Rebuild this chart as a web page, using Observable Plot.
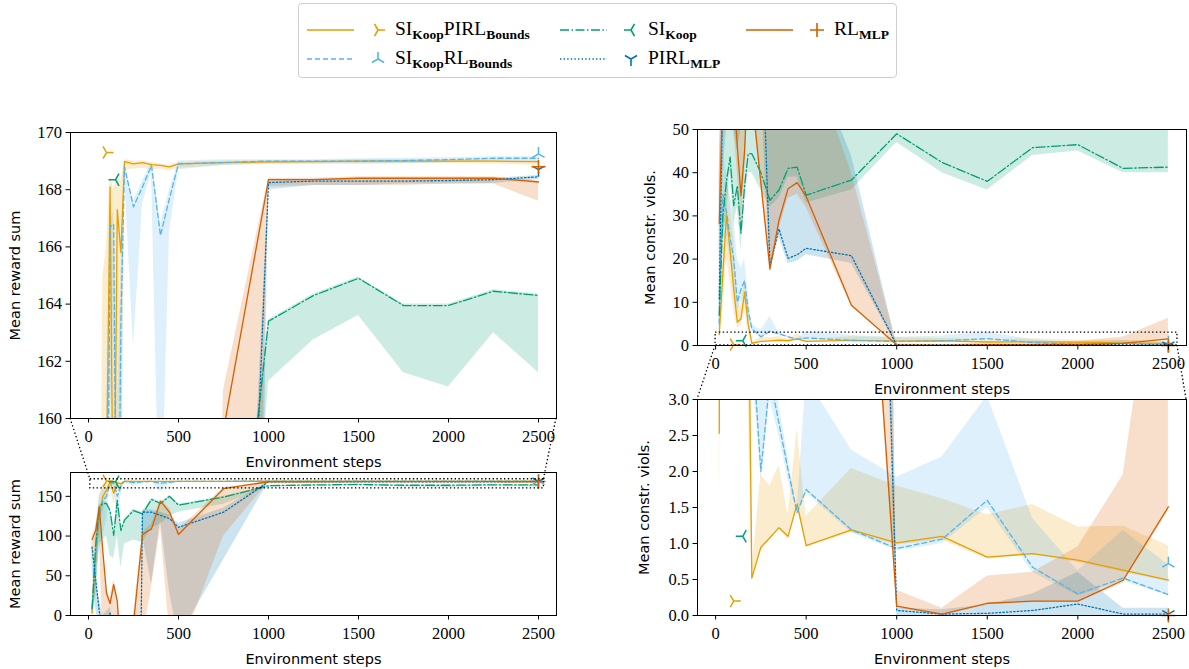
<!DOCTYPE html>
<html><head><meta charset="utf-8">
<script src="https://cdn.jsdelivr.net/npm/d3@7"></script>
<script src="https://cdn.jsdelivr.net/npm/@observablehq/plot@0.6"></script>
<style>
body{margin:0;background:#fff;}
#root{position:relative;width:1189px;height:669px;overflow:hidden;font-family:"Liberation Serif",serif;}
.panel{position:absolute;}
.panel g[aria-label="x-axis label"] text,.panel g[aria-label="y-axis label"] text{font-family:"DejaVu Sans",sans-serif;font-size:14.5px;}
#legend{position:absolute;left:298px;top:3px;width:597px;height:73px;border:1px solid #cfcfcf;border-radius:4px;background:#fff;}
#legend .t{position:absolute;font-family:"Liberation Serif",serif;font-size:19.5px;white-space:nowrap;line-height:20px;}
#legend sub{font-size:13.5px;font-weight:bold;vertical-align:-4px;line-height:0;}
#overlay{position:absolute;left:0;top:0;pointer-events:none;}
</style></head><body><div id="root"></div>
<script>
// ---------------- data ----------------
const STEPS = [20,40,60,80,100,120,140,160,180,200,250,300,350,400,450,500,750,1000,1250,1500,1750,2000,2250,2500];
const SERIES_KEYS = ["SKP","SKR","SK","PIRL","RL"];
const SERIES_LABELS = ["SI<sub>Koop</sub>PIRL<sub>Bounds</sub>","SI<sub>Koop</sub>RL<sub>Bounds</sub>","SI<sub>Koop</sub>","PIRL<sub>MLP</sub>","RL<sub>MLP</sub>"];
const SERIES_COLORS = ["#E69F00","#56B4E9","#009E73","#0072B2","#D55E00"];
const SERIES_DASH = [null,"5,3","9,2.5,1.5,2.5","1.4,2.2",null];
const SERIES_SYMBOL = ["triRight","triUp","triLeft","triDown","plus"];

// reward (mean, lower, upper)
const REW_SKP    = [3,70,128,150,158,168.1,154,167.3,165.8,168.98,168.9,168.95,168.88,168.85,168.8,168.9,168.95,168.97,168.98,169.0,169.0,169.0,169.0,168.98];
const REW_SKP_LO = [0,30,100,130,145,163,140,160,155,168.7,168.72,168.75,168.7,168.72,168.65,168.75,168.85,168.88,168.9,168.9,168.92,168.92,168.9,168.85];
const REW_SKP_HI = [8,110,150,165,166,168.5,168,168.5,168.3,169.05,169.0,169.0,168.95,168.9,168.85,168.95,169.0,169.02,169.02,169.05,169.05,169.05,169.05,169.02];
const REW_SKR    = [8,70,125,145,150,166.7,166.8,150,163.4,168.8,167.4,168.1,168.85,166.4,167.7,168.9,168.95,169.0,169.0,169.0,169.02,169.05,169.1,169.1];
const REW_SKR_LO = [0,30,80,100,120,160,163,120,150,168.5,162.5,167.5,168.6,155,166.5,168.7,168.85,168.9,168.9,168.9,168.9,168.95,169.0,169.0];
const REW_SKR_HI = [15,100,150,160,160,167,167.2,160,165,168.9,167.6,168.3,168.95,166.8,168,169.0,169.05,169.05,169.05,169.08,169.1,169.12,169.15,169.15];
const REW_SK     = [9,88,137,141,141,132,101,145,107,120,132,128,146,141,150,139,149,163.4,164.3,164.9,163.95,163.95,164.45,164.3];
const REW_SK_LO  = [0,20,90,95,100,75,72,100,60,90,95,92,110,115,125,130,140,161.3,162.75,163.6,161.6,161.1,163.0,161.6];
const REW_SK_HI  = [10,90,139,143,143,134,103,147,109,122,134,130,148,143,151,140,150,163.45,164.35,164.95,164.0,164.0,164.5,164.35];
const REW_PIRL    = [86,45,5,-20,-5,3,-40,-60,-100,-200,-800,130,130,126,122,111,130,168.25,168.3,168.3,168.3,168.32,168.35,168.45];
const REW_PIRL_LO = [60,10,-20,-50,-40,-20,-60,-100,-150,-300,-900,100,40,120,30,-28,70,168.0,168.15,168.15,168.2,168.2,168.22,168.35];
const REW_PIRL_HI = [90,50,20,0,5,10,-10,-40,-80,-150,-700,133,133,130,126,116,135,168.3,168.35,168.35,168.35,168.37,168.4,168.5];
const REW_RL    = [95.5,107,136,80,28,15,39,18,-50,-80,-10,102,109,144,130,102,159.6,168.35,168.35,168.4,168.4,168.4,168.4,168.27];
const REW_RL_LO = [70,80,100,-30,-50,-30,-40,-100,-150,-150,-100,-30,35,110,-20,-50,100,168.1,168.15,168.15,168.15,168.2,168.2,167.6];
const REW_RL_HI = [100,112,140,85,35,20,45,25,-40,-60,0,105,115,146,135,108,161,168.4,168.4,168.45,168.45,168.45,168.45,168.3];

// constraint violations (mean, lower, upper)
const VIO_SKP    = [2.53,16.7,30.3,22,13,5.4,6.2,12.3,5,0.52,0.95,1.08,1.22,1.1,1.55,0.97,1.19,1.01,1.1,0.81,0.86,0.77,0.63,0.49];
const VIO_SKP_LO = [1.5,8,20,15,8,4,4.5,8,3,0.5,0.9,1.05,1.2,1.05,1.5,0.95,1.15,0.98,1.05,0.78,0.84,0.74,0.6,0.47];
const VIO_SKP_HI = [5,30,40,33,25,10,9,15,8,0.6,1.95,1.8,2.08,1.4,2.58,1.38,2.04,1.8,1.62,1.4,1.54,1.23,1.24,0.97];
const VIO_SKR    = [5,35,31,25,20,10,13,15,8,3.9,2.0,3.3,2.67,2.02,1.43,1.75,1.19,0.93,1.06,1.6,0.67,0.3,0.52,0.29];
const VIO_SKR_LO = [3,25,25,20,15,8,10,12,6,3.5,1.9,3.0,2.5,1.9,1.4,1.7,1.15,0.9,1.0,1.5,0.6,0.27,0.48,0.27];
const VIO_SKR_HI = [8,45,40,35,30,20,18,20,12,5,3.5,6.7,2.9,2.2,1.45,3.3,2.3,1.92,2.2,3.05,1.35,0.62,1.18,0.7];
const VIO_SK     = [7,30,38,43.6,32.4,37,26,37,44.4,44.4,40,33.6,36,41,41.3,34.8,38.3,49,42.4,38,45.8,46.5,41,41.3];
const VIO_SK_LO  = [4,25,30,40,28,32,22,33,40,40,36,32,34,39,39,33,36,47,40,36,44,45,40,40];
const VIO_SK_HI  = [15,60,65,70,60,65,60,65,70,70,70,65,68,70,72,65,70,75,70,68,72,74,70,72];
const VIO_PIRL    = [10.8,60,70,75,70,65,70,75,80,85,80,18.5,27,20.2,21,22.5,20.8,0.07,0.02,0.03,0.07,0.16,0.02,0.02];
const VIO_PIRL_LO = [5,40,50,55,50,45,50,55,60,65,60,17,25,19,19.5,21,19,0,0,0,0,0,0,0];
const VIO_PIRL_HI = [40,80,90,95,90,85,90,95,100,105,100,60,65,65,68,70,44,0.1,0.08,0.15,0.3,0.6,0.1,0.1];
const VIO_RL    = [28.2,60,65,70,60,46,34.7,45,65,58,37.6,17.7,29,36.3,37.7,34.5,9.3,0.13,0.02,0.17,0.2,0.2,0.49,1.51];
const VIO_RL_LO = [20,50,55,60,50,40,28,40,55,57,37,17,27,34,35,32,9,0.1,0,0.15,0.18,0.18,0.45,1.45];
const VIO_RL_HI = [40,80,85,90,80,70,55,70,90,90,70,60,65,70,72,70,40,0.35,0.1,0.55,0.6,0.95,1.95,6.3];

// single highlighted points (one per series)
const MARK_STEP = [100,2500,150,2500,2500];
const MARK_REW  = [169.3,169.25,168.35,168.7,168.8];
const MARK_VIO  = [0.2,0.72,1.1,0.02,0.0];

const X_DOMAIN = [-100,2600];
const X_TICKS = [0,500,1000,1500,2000,2500];
const ZOOM_REW = {x1:10,x2:2530,y1:160,y2:171.5};
const ZOOM_VIO = {x1:0,x2:2550,y1:0,y2:3};

// ---------------- tables ----------------
const REW = {SKP:[REW_SKP,REW_SKP_LO,REW_SKP_HI],SKR:[REW_SKR,REW_SKR_LO,REW_SKR_HI],SK:[REW_SK,REW_SK_LO,REW_SK_HI],PIRL:[REW_PIRL,REW_PIRL_LO,REW_PIRL_HI],RL:[REW_RL,REW_RL_LO,REW_RL_HI]};
const VIO = {SKP:[VIO_SKP,VIO_SKP_LO,VIO_SKP_HI],SKR:[VIO_SKR,VIO_SKR_LO,VIO_SKR_HI],SK:[VIO_SK,VIO_SK_LO,VIO_SK_HI],PIRL:[VIO_PIRL,VIO_PIRL_LO,VIO_PIRL_HI],RL:[VIO_RL,VIO_RL_LO,VIO_RL_HI]};
const rows = [];
SERIES_KEYS.forEach(k=>{
  STEPS.forEach((s,i)=>rows.push({series:k,step:s,rm:REW[k][0][i],rlo:REW[k][1][i],rhi:REW[k][2][i],vm:VIO[k][0][i],vlo:VIO[k][1][i],vhi:VIO[k][2][i]}));
});
const markers = SERIES_KEYS.map((k,i)=>({series:k,step:MARK_STEP[i],rew:MARK_REW[i],vio:MARK_VIO[i]}));

const SYM = {
  triRight:{draw(c,s){const r=Math.sqrt(s/Math.PI);c.moveTo(0,0);c.lineTo(r,0);c.moveTo(0,0);c.lineTo(-r/2,-r*0.866);c.moveTo(0,0);c.lineTo(-r/2,r*0.866);}},
  triLeft:{draw(c,s){const r=Math.sqrt(s/Math.PI);c.moveTo(0,0);c.lineTo(-r,0);c.moveTo(0,0);c.lineTo(r/2,-r*0.866);c.moveTo(0,0);c.lineTo(r/2,r*0.866);}},
  triUp:{draw(c,s){const r=Math.sqrt(s/Math.PI);c.moveTo(0,0);c.lineTo(0,-r);c.moveTo(0,0);c.lineTo(-r*0.866,r/2);c.moveTo(0,0);c.lineTo(r*0.866,r/2);}},
  triDown:{draw(c,s){const r=Math.sqrt(s/Math.PI);c.moveTo(0,0);c.lineTo(0,r);c.moveTo(0,0);c.lineTo(-r*0.866,-r/2);c.moveTo(0,0);c.lineTo(r*0.866,-r/2);}},
  plus:{draw(c,s){const r=Math.sqrt(s/Math.PI);c.moveTo(-r,0);c.lineTo(r,0);c.moveTo(0,-r);c.lineTo(0,r);}}
};

const root = document.getElementById("root");

function makePanel(cfg){
  const mL=70, mT=10, mB=50;
  const width = mL+cfg.fw+cfg.mR, height = mT+cfg.fh+mB;
  const [fm,flo,fhi] = cfg.field==="rew" ? ["rm","rlo","rhi"] : ["vm","vlo","vhi"];
  const marks = [];
  SERIES_KEYS.forEach((k,i)=>{
    marks.push(Plot.areaY(rows.filter(r=>r.series===k),{x:"step",y1:flo,y2:fhi,fill:SERIES_COLORS[i],fillOpacity:0.2,clip:true}));
  });
  SERIES_KEYS.forEach((k,i)=>{
    marks.push(Plot.lineY(rows.filter(r=>r.series===k),{x:"step",y:fm,stroke:SERIES_COLORS[i],strokeWidth:1.3,strokeDasharray:SERIES_DASH[i]||undefined,clip:true}));
  });
  SERIES_KEYS.forEach((k,i)=>{
    marks.push(Plot.dot(markers.filter(m=>m.series===k),{x:"step",y:cfg.field,symbol:SYM[SERIES_SYMBOL[i]],r:7,fill:"none",stroke:SERIES_COLORS[i],strokeWidth:1.5}));
  });
  if (cfg.zoom) marks.push(Plot.rect([cfg.zoom],{x1:"x1",x2:"x2",y1:"y1",y2:"y2",fill:"none",stroke:"black",strokeWidth:1.3,strokeDasharray:"1.4,2.4"}));
  marks.push(Plot.frame({stroke:"black",strokeWidth:1}));
  marks.push(Plot.axisX({ticks:X_TICKS,tickSize:4.5,tickPadding:7,tickFormat:d=>String(d),label:"Environment steps",labelArrow:"none",labelAnchor:"center",labelOffset:48}));
  marks.push(Plot.axisY({ticks:cfg.yticks,tickSize:4.5,tickPadding:4,tickFormat:cfg.yfmt,label:cfg.ylabel,labelArrow:"none",labelAnchor:"center",labelOffset:cfg.ylo}));
  const p = Plot.plot({width,height,marginLeft:mL,marginRight:cfg.mR,marginTop:mT,marginBottom:mB,
    style:{background:"transparent",fontFamily:"'Liberation Serif',serif",fontSize:"16.5px",color:"black",overflow:"visible"},
    x:{domain:X_DOMAIN,labelArrow:"none"},y:{domain:cfg.ydomain,labelArrow:"none"},marks});
  const div = document.createElement("div");
  div.className="panel"; div.style.left=cfg.left+"px"; div.style.top=cfg.top+"px";
  div.appendChild(p); root.appendChild(div);
  return {p,left:cfg.left,top:cfg.top};
}

const fmt1 = d3.format(".1f");
const TL = makePanel({left:0,top:122,fw:486,fh:286,mR:14,field:"rew",ydomain:[160,170],yticks:[160,162,164,166,168,170],yfmt:d=>String(d),ylabel:"Mean reward sum",ylo:61});
const BL = makePanel({left:0,top:462,fw:486,fh:143,mR:14,field:"rew",ydomain:[0,180],yticks:[0,50,100,150],yfmt:d=>String(d),ylabel:"Mean reward sum",zoom:ZOOM_REW,ylo:61});
const TR = makePanel({left:627,top:119,fw:489,fh:216,mR:3,field:"vio",ydomain:[0,50],yticks:[0,10,20,30,40,50],yfmt:d=>String(d),ylabel:"Mean constr. viols.",zoom:ZOOM_VIO,ylo:53});
const BR = makePanel({left:627,top:389,fw:489,fh:216,mR:3,field:"vio",ydomain:[0,3],yticks:[0,0.5,1,1.5,2,2.5,3],yfmt:fmt1,ylabel:"Mean constr. viols.",ylo:59});

// ---------------- inset connectors (from scales) ----------------
function px(P,v){return P.left+P.p.scale("x").apply(v);}
function py(P,v){return P.top+P.p.scale("y").apply(v);}
const ov = d3.select(root).append("svg").attr("id","overlay").attr("width",1189).attr("height",669);
function conn(x1,y1,x2,y2){ov.append("line").attr("x1",x1).attr("y1",y1).attr("x2",x2).attr("y2",y2).attr("stroke","black").attr("stroke-width",1.3).attr("stroke-dasharray","1.4,2.4");}
conn(px(TL,X_DOMAIN[0]),py(TL,160),px(BL,ZOOM_REW.x1),py(BL,ZOOM_REW.y2));
conn(px(TL,X_DOMAIN[1]),py(TL,160),px(BL,ZOOM_REW.x2),py(BL,ZOOM_REW.y2));
conn(px(TR,ZOOM_VIO.x1),py(TR,0),px(BR,X_DOMAIN[0]),py(BR,3));
conn(px(TR,ZOOM_VIO.x2),py(TR,0),px(BR,X_DOMAIN[1]),py(BR,3));

// ---------------- legend ----------------
const leg = d3.select(root).append("div").attr("id","legend");
const COL_BASE = [0,253,439], ROW_Y = [26,55];
const ORDER = [[0,0],[1,0],[0,1],[1,1],[0,2]]; // [row,col] for each series
SERIES_KEYS.forEach((k,i)=>{
  const [r,c] = ORDER[i]; const b = COL_BASE[c], y = ROW_Y[r];
  const s = leg.append("svg").style("position","absolute").style("left",(b)+"px").style("top",(y-12)+"px").attr("width",95).attr("height",24);
  const l = s.append("line").attr("x1",8).attr("x2",55).attr("y1",12).attr("y2",12).attr("stroke",SERIES_COLORS[i]).attr("stroke-width",1.5);
  if (SERIES_DASH[i]) l.attr("stroke-dasharray",SERIES_DASH[i]);
  const path = d3.path(); SYM[SERIES_SYMBOL[i]].draw(path,49*Math.PI);
  s.append("path").attr("d",path.toString()).attr("transform","translate(79,12)").attr("fill","none").attr("stroke",SERIES_COLORS[i]).attr("stroke-width",1.6);
  leg.append("div").attr("class","t").style("left",(b+96)+"px").style("top",(y-11)+"px").html(SERIES_LABELS[i]);
});
</script></body></html>
